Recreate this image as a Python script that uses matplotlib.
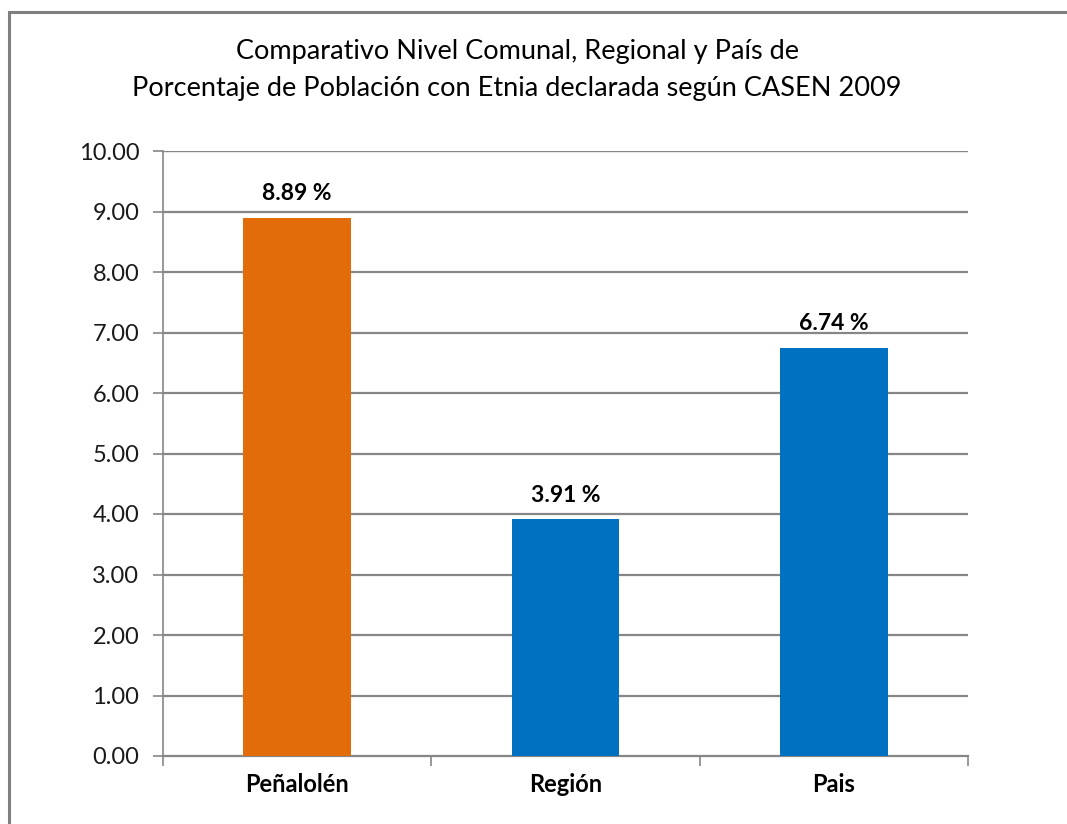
import matplotlib
matplotlib.use("Agg")
import matplotlib.pyplot as plt
from matplotlib.patches import Rectangle

categories = ["Peñalolén", "Región", "Pais"]
values = [8.89, 3.91, 6.74]
colors = ["#E36C0A", "#0070C0", "#0070C0"]
yticks = [0, 1, 2, 3, 4, 5, 6, 7, 8, 9, 10]
title = "Comparativo Nivel Comunal, Regional y País de\nPorcentaje de Población con Etnia declarada según CASEN 2009"

plt.rcParams['font.family'] = ['Lato', 'DejaVu Sans']

W, H = 1067, 824
fig = plt.figure(figsize=(W/100, H/100), dpi=100)

# outer border
fig.patches.append(Rectangle((9/W, -0.1), 1.2, (H-12)/H + 0.1, transform=fig.transFigure,
                             fill=False, edgecolor="#7f7f7f", linewidth=2.2))

left, right, top, bottom = 163, 968, 151, 756
ax = fig.add_axes([left/W, 1-bottom/H, (right-left)/W, (bottom-top)/H])

x = list(range(len(categories)))
bars = ax.bar(x, values, width=0.4, color=colors, zorder=3)
ax.set_xlim(-0.5, len(categories)-0.5)
ax.set_ylim(0, 10)
ax.set_yticks(yticks)
ax.set_yticklabels([f"{v:.2f}" for v in yticks], fontsize=17, color="#1a1a1a")
ax.set_xticks(x)
ax.set_xticklabels(categories, fontsize=17, fontweight="bold")
ax.tick_params(axis="x", length=0, pad=12)
ax.tick_params(axis="y", length=7, width=1.2, color="#868686", pad=10)
ax.set_xticks([-0.5, 0.5, 1.5, 2.5], minor=True)
ax.tick_params(axis="x", which="minor", length=7, width=1.2, color="#868686")
for yv in yticks[1:]:
    ax.axhline(yv, color="#868686", linewidth=1.0 if yv == yticks[-1] else 1.6, zorder=0)
for s in ["top", "right"]:
    ax.spines[s].set_visible(False)
ax.spines["left"].set_color("#868686")
ax.spines["left"].set_linewidth(1.2)
ax.spines["bottom"].set_color("#868686")
ax.spines["bottom"].set_linewidth(1.6)

for xi, v in zip(x, values):
    ax.annotate(f"{v:.2f} %", (xi, v), xytext=(0, 10), textcoords="offset points",
                ha="center", va="bottom", fontsize=16.5, fontweight="bold")

fig.text(517/W, 1-70/H, title, ha="center", va="center", fontsize=19.5, linespacing=1.6)

fig.savefig("out.png", dpi=100)
